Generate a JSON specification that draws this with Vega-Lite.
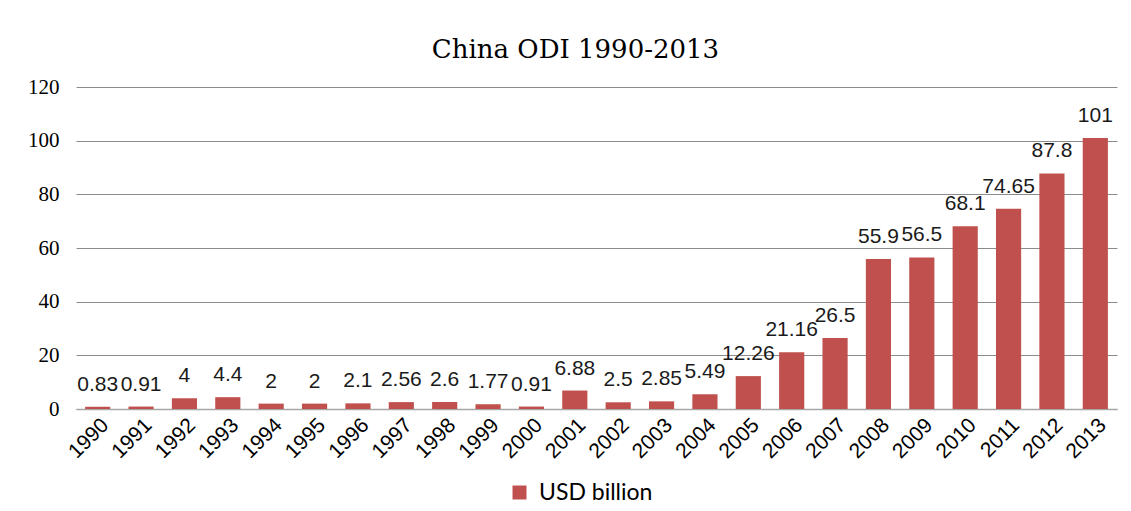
{
  "$schema": "https://vega.github.io/schema/vega-lite/v6.json",
  "width": 1041,
  "height": 322,
  "padding": {"left": 5, "top": 37, "right": 14, "bottom": 0},
  "background": "white",
  "title": {
    "text": "China ODI 1990-2013",
    "font": "DejaVu Serif",
    "fontSize": 26,
    "fontWeight": "normal",
    "color": "#000000",
    "anchor": "middle",
    "dx": -21,
    "offset": 13
  },
  "data": {
    "values": [
      {"year": "1990", "value": 0.83, "series": "USD billion"},
      {"year": "1991", "value": 0.91, "series": "USD billion"},
      {"year": "1992", "value": 4, "series": "USD billion"},
      {"year": "1993", "value": 4.4, "series": "USD billion"},
      {"year": "1994", "value": 2, "series": "USD billion"},
      {"year": "1995", "value": 2, "series": "USD billion"},
      {"year": "1996", "value": 2.1, "series": "USD billion"},
      {"year": "1997", "value": 2.56, "series": "USD billion"},
      {"year": "1998", "value": 2.6, "series": "USD billion"},
      {"year": "1999", "value": 1.77, "series": "USD billion"},
      {"year": "2000", "value": 0.91, "series": "USD billion"},
      {"year": "2001", "value": 6.88, "series": "USD billion"},
      {"year": "2002", "value": 2.5, "series": "USD billion"},
      {"year": "2003", "value": 2.85, "series": "USD billion"},
      {"year": "2004", "value": 5.49, "series": "USD billion"},
      {"year": "2005", "value": 12.26, "series": "USD billion"},
      {"year": "2006", "value": 21.16, "series": "USD billion"},
      {"year": "2007", "value": 26.5, "series": "USD billion"},
      {"year": "2008", "value": 55.9, "series": "USD billion"},
      {"year": "2009", "value": 56.5, "series": "USD billion"},
      {"year": "2010", "value": 68.1, "series": "USD billion"},
      {"year": "2011", "value": 74.65, "series": "USD billion"},
      {"year": "2012", "value": 87.8, "series": "USD billion"},
      {"year": "2013", "value": 101, "series": "USD billion"}
    ]
  },
  "encoding": {
    "x": {
      "field": "year",
      "type": "ordinal",
      "scale": {"paddingInner": 0.42, "paddingOuter": 0.21},
      "axis": {
        "title": null,
        "labelAngle": -45,
        "labelFont": "Liberation Sans",
        "labelFontSize": 21,
        "labelColor": "#000000",
        "labelPadding": 5,
        "ticks": false,
        "domainColor": "#A6A6A6",
        "domainWidth": 1.5
      }
    },
    "y": {
      "field": "value",
      "type": "quantitative",
      "scale": {"domain": [0, 120], "nice": false},
      "axis": {
        "title": null,
        "values": [0, 20, 40, 60, 80, 100, 120],
        "labelFont": "Liberation Serif",
        "labelFontSize": 21,
        "labelColor": "#000000",
        "labelPadding": 17,
        "ticks": false,
        "domain": false,
        "gridColor": "#8C8C8C",
        "gridWidth": 1,
        "minExtent": 71,
        "maxExtent": 71
      }
    }
  },
  "layer": [
    {
      "mark": {"type": "bar"},
      "encoding": {
        "color": {
          "field": "series",
          "type": "nominal",
          "scale": {"range": ["#C0504D"]},
          "legend": {
            "title": null,
            "orient": "none",
            "legendX": 432,
            "legendY": 394,
            "symbolType": "square",
            "symbolSize": 196,
            "symbolStrokeWidth": 0,
            "symbolOpacity": 1,
            "labelFont": "Lato",
            "labelFontSize": 23,
            "labelColor": "#000000",
            "labelOffset": 8
          }
        }
      }
    },
    {
      "mark": {
        "type": "text",
        "baseline": "alphabetic",
        "dy": -16,
        "font": "Liberation Sans",
        "fontSize": 21,
        "color": "#1a1a1a"
      },
      "encoding": {
        "text": {"field": "value", "type": "quantitative", "format": "~g"}
      }
    }
  ],
  "config": {
    "view": {"stroke": null}
  }
}
